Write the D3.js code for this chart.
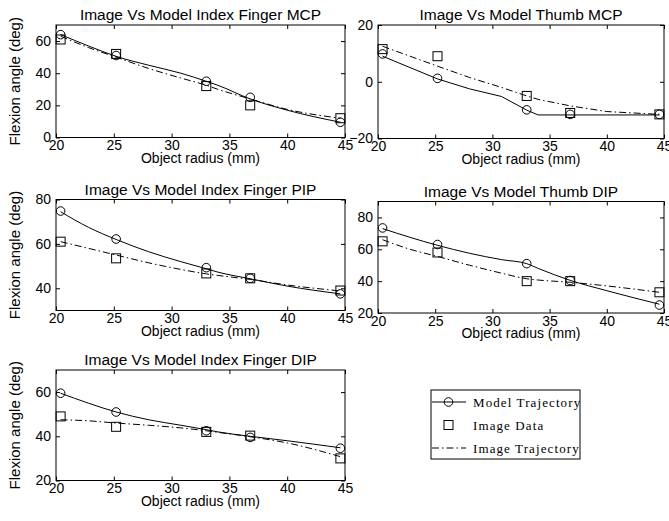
<!DOCTYPE html>
<html>
<head>
<meta charset="utf-8">
<script src="https://cdn.jsdelivr.net/npm/d3@7"></script>
<style>
  body { margin: 0; background: #fff; }
  svg { display: block; }
  .tick text { font-family: "Liberation Sans", Arial, sans-serif; font-size: 14px; fill: #000; }
  .tick line { stroke: #000; }
  .lbl { font-family: "Liberation Sans", Arial, sans-serif; font-size: 14px; fill: #000; }
  .ttl { font-family: "Liberation Sans", Arial, sans-serif; font-size: 15.5px; fill: #000; }
  .ylbl { font-family: "Liberation Sans", Arial, sans-serif; font-size: 15px; fill: #000; }
  .leg { font-family: "Liberation Serif", "Times New Roman", serif; font-size: 13px; letter-spacing: 1.1px; fill: #000; }
</style>
</head>
<body>
<div id="chart-container"></div>
<script>
// radii where the model and image were sampled
const radii = [20.4, 25.2, 33.0, 36.8, 44.6];
// radii along the fitted / simulated trajectories
const trajRadii = [20.4, 22.8, 25.2, 28, 30.8, 33, 34, 36.8, 40, 44.6];

const titles = [
  "Image Vs Model Index Finger MCP",
  "Image Vs Model Thumb MCP",
  "Image Vs Model Index Finger PIP",
  "Image Vs Model Thumb DIP",
  "Image Vs Model Index Finger DIP"
];

// model values at the sample radii (circles)
const modelIndexMCP = [64, 51, 35, 25, 9.5];
const modelThumbMCP = [9.8, 1.2, -9.9, -11.5, -11.5];
const modelIndexPIP = [74.8, 62.2, 49.3, 44.5, 37.5];
const modelThumbDIP = [73.4, 63, 51, 40.4, 25];
const modelIndexDIP = [59.5, 51, 42.5, 39.5, 34.6];

// image data (squares)
const imageIndexMCP = [61, 52, 32, 20, 12];
const imageThumbMCP = [11.5, 9, -5, -11, -11.5];
const imageIndexPIP = [61, 53.5, 46.7, 44.5, 39];
const imageThumbDIP = [65, 58, 40, 40, 33];
const imageIndexDIP = [49, 44.3, 42, 40.3, 30];

// model trajectory (solid) at trajRadii
const modelTrajIndexMCP = [64, 57, 50.5, 45, 40, 35, 32.5, 24, 17, 9.5];
const modelTrajThumbMCP = [9, 5, 1, -2.5, -5.2, -10, -11.7, -11.7, -11.7, -11.7];
const modelTrajIndexPIP = [74.5, 67.5, 62, 56.5, 52, 48.8, 47.3, 44.3, 41, 37.5];
const modelTrajThumbDIP = [73, 67.5, 62.5, 57.5, 53.5, 51, 48, 40.5, 34, 25.5];
const modelTrajIndexDIP = [59.5, 55, 51, 47.5, 45, 43, 42, 40, 38, 34.8];

// image trajectory (dash-dot) at trajRadii
const imageTrajIndexMCP = [63, 56, 50, 43, 37, 32.5, 30, 24, 17.5, 12];
const imageTrajThumbMCP = [12.5, 9, 5.5, 1.5, -2, -5, -6.2, -8.5, -10.5, -11.5];
const imageTrajIndexPIP = [61, 58, 55, 51.5, 48.5, 46.5, 45.8, 44, 41.5, 38.8];
const imageTrajThumbDIP = [66, 60, 55.5, 50, 45, 41.5, 40.7, 39.3, 37, 33];
const imageTrajIndexDIP = [47.5, 47, 46, 45, 43.8, 42.5, 41.8, 39.8, 37, 30.8];

// axis limits and tick labels
const xDomain = [20, 45];
const xTicks = [20, 25, 30, 35, 40, 45];
const yDomains = [[0, 70], [-20, 20], [30, 80], [20, 90], [20, 70]];
const yTicks = [[0, 20, 40, 60], [-20, 0, 20], [40, 60, 80], [20, 40, 60, 80], [20, 40, 60]];

const legendLabels = ["Model Trajectory", "Image Data", "Image Trajectory"];

const panels = [
  { model: modelIndexMCP, image: imageIndexMCP, modelTraj: modelTrajIndexMCP, imageTraj: imageTrajIndexMCP, box: [56, 25, 345, 137.5], ylabel: true, curve: d3.curveMonotoneX },
  { model: modelThumbMCP, image: imageThumbMCP, modelTraj: modelTrajThumbMCP, imageTraj: imageTrajThumbMCP, box: [378, 25, 664, 138.5], ylabel: false, curve: d3.curveLinear },
  { model: modelIndexPIP, image: imageIndexPIP, modelTraj: modelTrajIndexPIP, imageTraj: imageTrajIndexPIP, box: [56, 199.5, 345, 310.5], ylabel: true, curve: d3.curveMonotoneX },
  { model: modelThumbDIP, image: imageThumbDIP, modelTraj: modelTrajThumbDIP, imageTraj: imageTrajThumbDIP, box: [378, 201.5, 664, 313], ylabel: false, curve: d3.curveMonotoneX },
  { model: modelIndexDIP, image: imageIndexDIP, modelTraj: modelTrajIndexDIP, imageTraj: imageTrajIndexDIP, box: [56, 370, 345, 480.5], ylabel: true, curve: d3.curveMonotoneX }
];

const dashDot = "7,3,1.5,3";

const svg = d3.select("#chart-container")
  .append("svg")
  .attr("width", 669)
  .attr("height", 521);

svg.append("rect").attr("width", 669).attr("height", 521).attr("fill", "#fff");

function circle(g, x, y) {
  g.append("circle").attr("cx", x).attr("cy", y).attr("r", 4.3)
    .attr("fill", "none").attr("stroke", "#000").attr("stroke-width", 1);
}
function square(g, x, y) {
  g.append("rect").attr("x", x - 4.5).attr("y", y - 4.5).attr("width", 9).attr("height", 9)
    .attr("fill", "none").attr("stroke", "#000").attr("stroke-width", 1);
}

panels.forEach((p, i) => {
  const [x0, y0, x1, y1] = p.box;
  const x = d3.scaleLinear().domain(xDomain).range([x0, x1]);
  const y = d3.scaleLinear().domain(yDomains[i]).range([y1, y0]);
  const g = svg.append("g");

  // axes with inward ticks on all four sides
  g.append("g").attr("transform", `translate(0,${y1})`)
    .call(d3.axisBottom(x).tickValues(xTicks).tickSize(-4).tickPadding(3))
    .call(a => a.select(".domain").remove());
  g.append("g").attr("transform", `translate(0,${y0})`)
    .call(d3.axisTop(x).tickValues(xTicks).tickSize(-4).tickFormat(""))
    .call(a => a.select(".domain").remove());
  g.append("g").attr("transform", `translate(${x0},0)`)
    .call(d3.axisLeft(y).tickValues(yTicks[i]).tickSize(-4).tickPadding(5))
    .call(a => a.select(".domain").remove());
  g.append("g").attr("transform", `translate(${x1},0)`)
    .call(d3.axisRight(y).tickValues(yTicks[i]).tickSize(-4).tickFormat(""))
    .call(a => a.select(".domain").remove());

  g.append("rect").attr("x", x0).attr("y", y0).attr("width", x1 - x0).attr("height", y1 - y0)
    .attr("fill", "none").attr("stroke", "#000").attr("stroke-width", 1);

  const line = d3.line().x(d => x(d[0])).y(d => y(d[1])).curve(p.curve);

  g.append("path").attr("d", line(d3.zip(trajRadii, p.imageTraj)))
    .attr("fill", "none").attr("stroke", "#000").attr("stroke-width", 1)
    .attr("stroke-dasharray", dashDot);
  g.append("path").attr("d", line(d3.zip(trajRadii, p.modelTraj)))
    .attr("fill", "none").attr("stroke", "#000").attr("stroke-width", 1);

  radii.forEach((r, k) => {
    circle(g, x(r), y(p.model[k]));
    square(g, x(r), y(p.image[k]));
  });

  g.append("text").attr("class", "ttl").attr("x", (x0 + x1) / 2).attr("y", y0 - 5)
    .attr("text-anchor", "middle").text(titles[i]);
  g.append("text").attr("class", "lbl").attr("x", (x0 + x1) / 2).attr("y", y1 + 25)
    .attr("text-anchor", "middle").text("Object radius (mm)");
  if (p.ylabel) {
    g.append("text").attr("class", "ylbl")
      .attr("transform", `translate(20,${(y0 + y1) / 2}) rotate(-90)`)
      .attr("text-anchor", "middle").text("Flexion angle (deg)");
  }
});

// legend
const lg = svg.append("g").attr("transform", "translate(431,390)");
lg.append("rect").attr("width", 149).attr("height", 69)
  .attr("fill", "#fff").attr("stroke", "#000").attr("stroke-width", 1);
const rows = [12, 35, 58];
lg.append("line").attr("x1", 1).attr("x2", 35).attr("y1", rows[0]).attr("y2", rows[0]).attr("stroke", "#000");
circle(lg, 17.5, rows[0]);
square(lg, 17.5, rows[1]);
lg.append("line").attr("x1", 1).attr("x2", 35).attr("y1", rows[2]).attr("y2", rows[2])
  .attr("stroke", "#000").attr("stroke-dasharray", dashDot);
legendLabels.forEach((t, k) => {
  lg.append("text").attr("class", "leg").attr("x", 42).attr("y", rows[k] + 4.5).text(t);
});
</script>
</body>
</html>
